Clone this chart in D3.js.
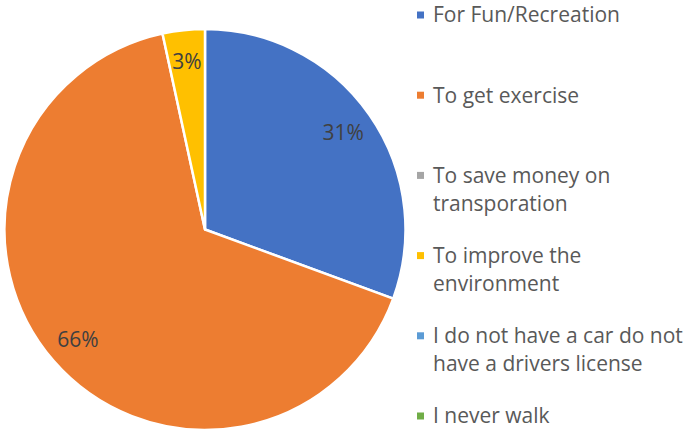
<!DOCTYPE html>
<html>
<head>
<meta charset="utf-8">
<script src="https://cdn.jsdelivr.net/npm/d3@7"></script>
<style>
  body { margin: 0; background: #fff; }
  svg { display: block; font-family: "Open Sans", sans-serif; }
</style>
</head>
<body>
<svg id="chart" width="685" height="431"></svg>
<script>
  const categories = [
    'For Fun/Recreation',
    'To get exercise',
    'To save money on transporation',
    'To improve the environment',
    'I do not have a car do not have a drivers license',
    'I never walk'
  ];
  const values = [30.6, 66.0, 0, 3.4, 0, 0];
  const colors = ['#4472C4', '#ED7D31', '#A5A5A5', '#FFC000', '#5B9BD5', '#70AD47'];
  // legend text as it wraps in the original
  const legendLines = [
    ['For Fun/Recreation'],
    ['To get exercise'],
    ['To save money on', 'transporation'],
    ['To improve the', 'environment'],
    ['I do not have a car do not', 'have a drivers license'],
    ['I never walk']
  ];

  const svg = d3.select('#chart');
  const cx = 205, cy = 229.5, R = 200.5;

  const pie = d3.pie().sort(null).value(d => d.v);
  const data = categories.map((c, i) => ({ name: c, v: values[i], color: colors[i] }));
  const arcs = pie(data);

  const arc = d3.arc().innerRadius(0).outerRadius(R);
  const labelArc = d3.arc().innerRadius(R * 0.84).outerRadius(R * 0.84);

  const g = svg.append('g').attr('transform', `translate(${cx},${cy})`);

  g.selectAll('path')
    .data(arcs.filter(a => a.data.v > 0))
    .join('path')
    .attr('d', arc)
    .attr('fill', d => d.data.color)
    .attr('stroke', '#fff')
    .attr('stroke-width', 2.5)
    .attr('stroke-linejoin', 'round');

  g.selectAll('text.lbl')
    .data(arcs.filter(a => a.data.v > 0))
    .join('text')
    .attr('class', 'lbl')
    .attr('transform', d => `translate(${labelArc.centroid(d)})`)
    .attr('text-anchor', 'middle')
    .attr('dy', '0.35em')
    .attr('fill', '#404040')
    .attr('font-size', 21)
    .text(d => Math.round(d.data.v) + '%');

  // Legend
  const legendY = d3.scaleLinear().domain([0, 5]).range([15, 416]);
  const lg = svg.append('g');
  legendLines.forEach((lines, i) => {
    const y0 = legendY(i);
    lg.append('rect')
      .attr('x', 417)
      .attr('y', y0 - 3.5)
      .attr('width', 7)
      .attr('height', 7)
      .attr('fill', colors[i]);
    const t = lg.append('text')
      .attr('x', 433)
      .attr('y', y0)
      .attr('fill', '#595959')
      .attr('font-size', 21);
    lines.forEach((ln, j) => {
      t.append('tspan')
        .attr('x', 433)
        .attr('y', y0 + j * 28)
        .attr('dy', '0.35em')
        .text(ln);
    });
  });
</script>
</body>
</html>
